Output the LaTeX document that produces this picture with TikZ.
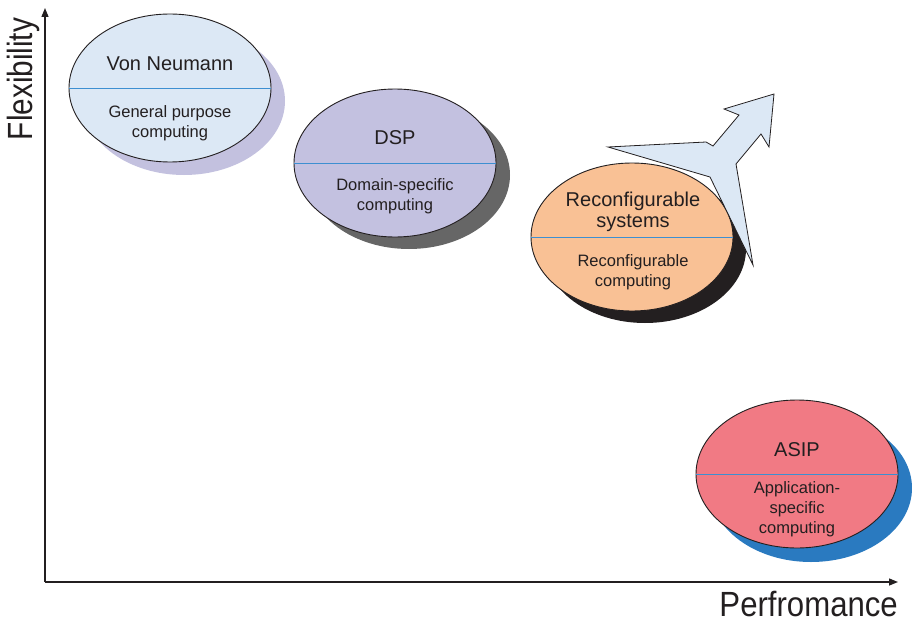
\documentclass[tikz,border=0pt]{standalone}
\usepackage{fontspec}
\setmainfont{Liberation Sans}
\usetikzlibrary{shapes.geometric,arrows.meta}

\definecolor{axisgray}{HTML}{231F20}
\definecolor{vnfill}{HTML}{DCE8F5}
\definecolor{vnshade}{HTML}{C3C1DF}
\definecolor{dspfill}{HTML}{C3C1E0}
\definecolor{dspshade}{HTML}{666666}
\definecolor{rcfill}{HTML}{F9C195}
\definecolor{rcshade}{HTML}{231F20}
\definecolor{asipfill}{HTML}{F17A84}
\definecolor{asipshade}{HTML}{2A7AC0}
\definecolor{splitblue}{HTML}{3D8FD1}

\tikzset{
  archbody/.style={ellipse, draw=axisgray, line width=0.9pt, inner sep=0pt,
                   minimum width=202pt, minimum height=148pt},
  archshade/.style={ellipse, inner sep=0pt, draw=none,
                    minimum width=202pt, minimum height=148pt},
  divider/.style={draw=splitblue, line width=0.9pt},
  titletext/.style={font=\fontsize{20}{21}\selectfont, text=axisgray, align=center, inner sep=0pt},
  subtext/.style={font=\fontsize{16.5}{20}\selectfont, text=axisgray, align=center, inner sep=0pt},
  axisline/.style={draw=axisgray, line width=1.4pt, -{Triangle[length=9pt,width=7pt]}},
  axislabel/.style={font=\fontsize{35}{40}\selectfont, text=axisgray, inner sep=0pt},
}

\begin{document}
\begin{tikzpicture}[x=1pt,y=-1pt]
  \useasboundingbox (0,0) rectangle (912,623);

  % axes
  \coordinate (origin) at (45,582);
  \coordinate (ytop) at (45,8);
  \coordinate (xend) at (898,582);
  \draw[axisline] (origin) -- (ytop);
  \draw[axisline] (origin) -- (xend);
  \node[axislabel, rotate=90, anchor=base] (ylab) at (32,79) {\scalebox{0.85}[1]{Flexibility}};
  \node[axislabel, anchor=base east] (xlab) at (898,616) {\scalebox{0.89}[1]{Perfromance}};

  % Von Neumann
  \node[archshade, fill=vnshade] (vnsh) at (184,101) {};
  \node[archbody, fill=vnfill] (vn) at (170,88) {};
  \draw[divider] (vn.west) -- (vn.east);
  \node[titletext] (vnt) at (170,64) {Von Neumann};
  \node[subtext] (vns) at (170,123) {General purpose\\computing};

  % DSP
  \node[archshade, fill=dspshade] (dspsh) at (409,175) {};
  \node[archbody, fill=dspfill] (dsp) at (395,163) {};
  \draw[divider] (dsp.west) -- (dsp.east);
  \node[titletext] (dspt) at (395,138) {DSP};
  \node[subtext] (dsps) at (395,196) {Domain-specific\\computing};

  % Reconfigurable systems
  \node[archshade, fill=rcshade] (rcsh) at (645,249) {};
  \node[archbody, fill=rcfill] (rc) at (632,237) {};
  \draw[divider] (rc.west) -- (rc.east);
  \node[titletext] (rct) at (633,212) {Reconfigurable\\systems};
  \node[subtext] (rcs) at (633,272) {Reconfigurable\\computing};

  % growth arrow
  \draw[fill=vnfill, draw=axisgray, line width=0.8pt, line join=miter]
    (774,94) -- (724,109) -- (739,115) -- (713,146) -- (706,142)
    -- (608,147) -- (710,177) -- (753,265) -- (736,164) -- (761,134)
    -- (769,147) -- cycle;

  % ASIP
  \node[archshade, fill=asipshade] (asipsh) at (811,488) {};
  \node[archbody, fill=asipfill] (asip) at (797,474) {};
  \draw[divider] (asip.west) -- (asip.east);
  \node[titletext] (asipt) at (797,450) {ASIP};
  \node[subtext] (asips) at (797,509) {Application-\\specific\\computing};
\end{tikzpicture}
\end{document}
